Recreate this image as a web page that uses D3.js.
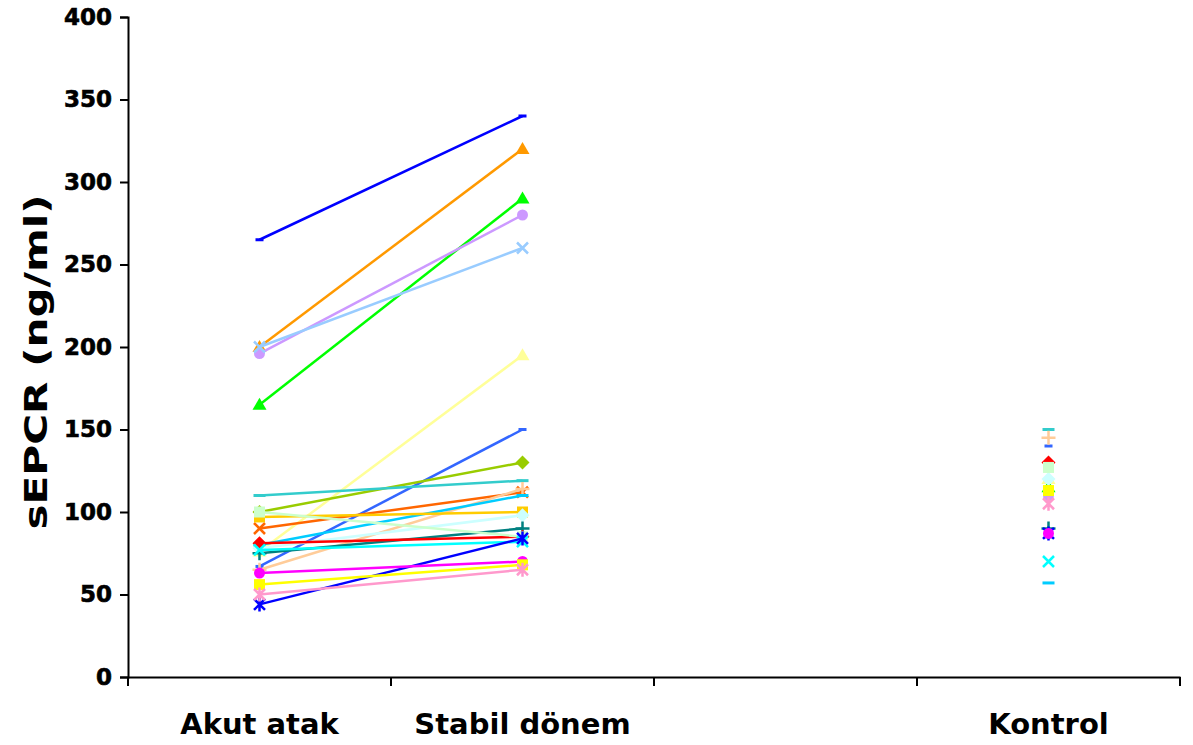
<!DOCTYPE html>
<html>
<head>
<meta charset="utf-8">
<script src="https://cdn.jsdelivr.net/npm/d3@7"></script>
<style>
  html, body { margin: 0; padding: 0; background: #fff; }
  text { font-family: Verdana, "DejaVu Sans", sans-serif; font-weight: bold; }
</style>
</head>
<body>
<svg id="chart" width="1193" height="745"></svg>
<script>
// ---- data ----
const categories = ["Akut atak", "Stabil dönem", "", "Kontrol"];
const yTicks = [0, 50, 100, 150, 200, 250, 300, 350, 400];
const seriesColors  = ["#0000FF","#FF9900","#00FF00","#CC99FF","#99CCFF","#FFFF99","#3366FF","#99CC00","#33CCCC","#FF6600","#FFCC99","#00CCFF","#FFCC00","#CCFFFF","#008080","#FF0000","#CCFFCC","#00FFFF","#0000FF","#FF00FF","#FFFF00","#FF99CC"];
const seriesMarkers = ["dash","triangle","triangle","circle","x","triangle","dash","diamond","longdash","x","plus","longdash","square","diamond","plus","diamond","square","x","star","circle","square","star"];
const acuteValues   = [265, 200, 165, 196, 200,  76,  67, 100, 110,  90,  65,  80,  97,  78,  75,  81, 100,  77,  44,  63,  56,  50];
const stableValues  = [340, 320, 290, 280, 260, 195, 150, 130, 119, 112, 114, 110, 100,  98,  90,  85,  85,  82,  84,  70,  68,  65];
const controlValues = [ 85, null, 115, 110, null, 120, 140, null, 150, null, 145,  57, null, 120,  90, 130, 127,  70,  87,  87, 113, 105];

// ---- layout ----
const svg = d3.select("#chart");
const mLeft = 128, mRight = 1180, mTop = 17, mBottom = 677;

const x = d3.scaleBand().domain(categories).range([mLeft, mRight]).padding(0);
const y = d3.scaleLinear().domain([0, 400]).range([mBottom, mTop]);
const cx = c => x(c) + x.bandwidth() / 2;

// y axis
const yAxis = svg.append("g").attr("transform", `translate(${mLeft},0)`)
  .call(d3.axisLeft(y).tickValues(yTicks).tickSize(8).tickPadding(8));
yAxis.select(".domain").attr("stroke", "#000").attr("stroke-width", 2);
yAxis.selectAll(".tick line").attr("stroke", "#000").attr("stroke-width", 2);
yAxis.selectAll(".tick text").attr("font-size", 23).attr("fill", "#000")
  .attr("font-family", 'Verdana, "DejaVu Sans", sans-serif').attr("font-weight", "bold")
  .attr("stroke", "#000").attr("stroke-width", 0.6);

// x axis
const xAxis = svg.append("g").attr("transform", `translate(0,${mBottom})`)
  .call(d3.axisBottom(x).tickSize(0).tickPadding(36));
xAxis.select(".domain").attr("stroke", "#000").attr("stroke-width", 2);
xAxis.selectAll(".tick text").attr("font-size", 29).attr("fill", "#000")
  .attr("font-family", 'Verdana, "DejaVu Sans", sans-serif').attr("font-weight", "bold");
// boundary ticks between categories
const bounds = categories.map(c => x(c)).concat([x.range()[1]]);
svg.append("g").selectAll("line").data(bounds).join("line")
  .attr("x1", d => d).attr("x2", d => d)
  .attr("y1", mBottom).attr("y2", mBottom + 9)
  .attr("stroke", "#000").attr("stroke-width", 2);

// y title
svg.append("text")
  .attr("transform", `translate(47,362) rotate(-90)`)
  .attr("text-anchor", "middle")
  .attr("font-size", 32)
  .attr("textLength", 335)
  .attr("lengthAdjust", "spacingAndGlyphs")
  .attr("fill", "#000")
  .text("sEPCR (ng/ml)");

// ---- markers ----
function drawMarker(g, type, color, px, py) {
  const s = 5.5;
  switch (type) {
    case "dash":
      g.append("rect").attr("x", px - 4).attr("y", py - 1.5).attr("width", 8).attr("height", 3).attr("fill", color); break;
    case "longdash":
      g.append("rect").attr("x", px - 6).attr("y", py - 1.5).attr("width", 12).attr("height", 3).attr("fill", color); break;
    case "triangle":
      g.append("path").attr("d", `M${px},${py - 7}L${px + 7},${py + 5}L${px - 7},${py + 5}Z`).attr("fill", color); break;
    case "circle":
      g.append("circle").attr("cx", px).attr("cy", py).attr("r", 5.5).attr("fill", color); break;
    case "square":
      g.append("rect").attr("x", px - 5.5).attr("y", py - 5.5).attr("width", 11).attr("height", 11).attr("fill", color); break;
    case "diamond":
      g.append("path").attr("d", `M${px},${py - 7}L${px + 7},${py}L${px},${py + 7}L${px - 7},${py}Z`).attr("fill", color); break;
    case "x":
      g.append("path").attr("d", `M${px - s},${py - s}L${px + s},${py + s}M${px - s},${py + s}L${px + s},${py - s}`)
        .attr("stroke", color).attr("stroke-width", 2.5).attr("fill", "none"); break;
    case "plus":
      g.append("path").attr("d", `M${px - 7},${py}L${px + 7},${py}M${px},${py - 7}L${px},${py + 7}`)
        .attr("stroke", color).attr("stroke-width", 2.5).attr("fill", "none"); break;
    case "star":
      g.append("path").attr("d", `M${px - s},${py - s}L${px + s},${py + s}M${px - s},${py + s}L${px + s},${py - s}M${px},${py - 7}L${px},${py + 7}`)
        .attr("stroke", color).attr("stroke-width", 2.5).attr("fill", "none"); break;
  }
}

// ---- series ----
const line = d3.line().x(d => cx(d.c)).y(d => y(d.v)).defined(d => d.v != null);
seriesColors.forEach((color, i) => {
  const g = svg.append("g");
  const pts = [
    { c: categories[0], v: acuteValues[i] },
    { c: categories[1], v: stableValues[i] }
  ];
  g.append("path").datum(pts).attr("d", line)
    .attr("fill", "none").attr("stroke", color).attr("stroke-width", 2.5);
  const all = pts.concat([{ c: categories[3], v: controlValues[i] }]);
  all.filter(d => d.v != null).forEach(d => drawMarker(g, seriesMarkers[i], color, cx(d.c), y(d.v)));
});
</script>
</body>
</html>
